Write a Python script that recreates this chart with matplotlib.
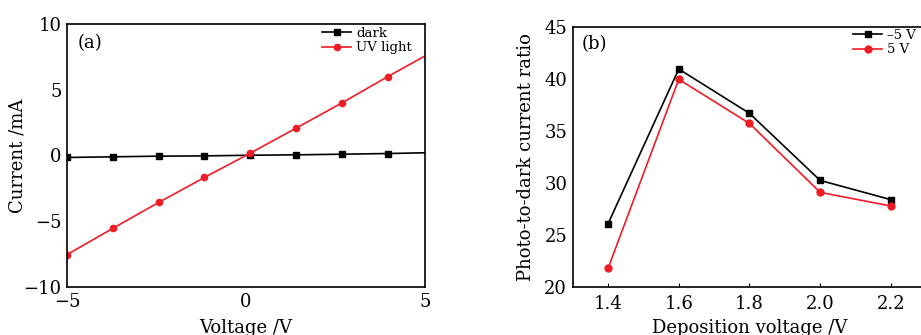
import numpy as np
import matplotlib
matplotlib.use('Agg')
import matplotlib.pyplot as plt

plt.rcParams['font.family'] = ['DejaVu Serif']
plt.rcParams['mathtext.fontset'] = 'dejavuserif'

# (a) I-V curves
voltage = [-5.0, -3.72, -2.44, -1.16, 0.12, 1.40, 2.68, 3.96, 5.24]
dark = [-0.15, -0.10, -0.05, -0.03, 0.02, 0.05, 0.10, 0.15, 0.22]
uv_light = [-7.54, -5.54, -3.57, -1.67, 0.18, 2.08, 4.00, 6.00, 7.93]

# (b) photo-to-dark current ratio
dep_voltage = [1.4, 1.6, 1.8, 2.0, 2.2]
ratio_neg5 = [26.05, 40.93, 36.67, 30.22, 28.37]
ratio_pos5 = [21.76, 39.94, 35.70, 29.07, 27.76]

fig = plt.figure(figsize=(9.21, 3.35), dpi=100)

W, H = 921, 335
ax1 = fig.add_axes([67 / W, (H - 287) / H, 358 / W, 263 / H])
ax2 = fig.add_axes([572.7 / W, (H - 286.7) / H, 353.5 / W, 260 / H])

ax1.plot(voltage, dark, color='black', marker='s', markersize=4, lw=1.2, label='dark')
ax1.plot(voltage, uv_light, color='#ee1c25', marker='o', markersize=4.5, lw=1.2, label='UV light')
ax1.set_xlim(-5, 5)
ax1.set_ylim(-10, 10)
ax1.set_xticks([-5, 0, 5])
ax1.set_yticks([-10, -5, 0, 5, 10])
ax1.set_xticklabels(['\u22125', '0', '5'])
ax1.set_yticklabels(['\u221210', '\u22125', '0', '5', '10'])
ax1.tick_params(length=0, labelsize=13, pad=4)
ax1.set_xlabel('Voltage /V', fontsize=13, labelpad=6)
ax1.set_ylabel('Current /mA', fontsize=13)
ax1.yaxis.set_label_coords(-0.112, 0.5)
ax1.text(0.03, 0.962, '(a)', transform=ax1.transAxes, fontsize=13, va='top')
ax1.legend(loc='upper left', frameon=False, fontsize=9.5, handlelength=2.2,
           borderaxespad=0.0, borderpad=0.0, labelspacing=0.1, handletextpad=0.4,
           bbox_to_anchor=(322 / W, 1 - 27 / H), bbox_transform=fig.transFigure)

ax2.plot(dep_voltage, ratio_neg5, color='black', marker='s', markersize=4.5, lw=1.2, label='\u20135 V')
ax2.plot(dep_voltage, ratio_pos5, color='#ee1c25', marker='o', markersize=5, lw=1.2, label='5 V')
ax2.set_xlim(1.3, 2.3)
ax2.set_ylim(20, 45)
ax2.set_xticks(dep_voltage)
ax2.set_xticklabels(['1.4', '1.6', '1.8', '2.0', '2.2'])
ax2.set_yticks([20, 25, 30, 35, 40, 45])
ax2.tick_params(axis='x', direction='in', length=3, labelsize=13, pad=6)
ax2.tick_params(axis='y', length=0, labelsize=13, pad=4)
ax2.set_xlabel('Deposition voltage /V', fontsize=13, labelpad=4)
ax2.set_ylabel('Photo-to-dark current ratio', fontsize=13)
ax2.yaxis.set_label_coords(-0.108, 0.5)
ax2.text(0.026, 0.968, '(b)', transform=ax2.transAxes, fontsize=13, va='top')
ax2.legend(loc='upper left', frameon=False, fontsize=9.5, handlelength=2.2,
           borderaxespad=0.0, borderpad=0.0, labelspacing=0.1, handletextpad=0.4,
           bbox_to_anchor=(853 / W, 1 - 29 / H), bbox_transform=fig.transFigure)

for ax in (ax1, ax2):
    for s in ax.spines.values():
        s.set_linewidth(1.2)

fig.savefig('out.png', dpi=100)
